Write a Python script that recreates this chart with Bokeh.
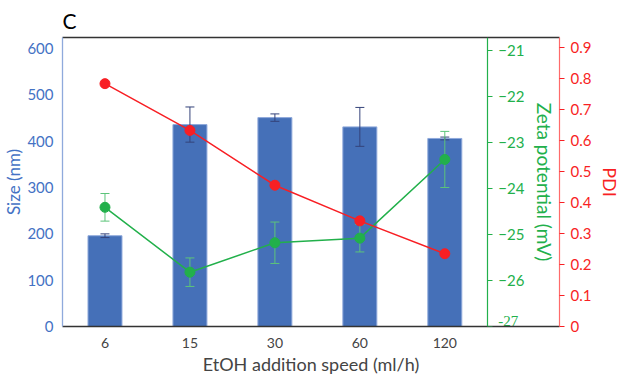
from bokeh.plotting import figure
from bokeh.models import Range1d, LinearAxis, FixedTicker, ColumnDataSource
from bokeh.embed import file_html
from bokeh.resources import INLINE

# ---- data ----
categories = ["6", "15", "30", "60", "120"]
size_nm = [196, 436, 451, 431, 406]
size_err = [4, 38, 8, 42, 3]
zeta_mv = [-24.41, -25.82, -25.18, -25.08, -23.37]
zeta_err = [0.30, 0.31, 0.45, 0.30, 0.61]
pdi = [0.784, 0.633, 0.456, 0.341, 0.235]

size_ticks = [0, 100, 200, 300, 400, 500, 600]
zeta_ticks = [-27, -26, -25, -24, -23, -22, -21]
pdi_ticks = [0, 0.1, 0.2, 0.3, 0.4, 0.5, 0.6, 0.7, 0.8, 0.9]

BLUE = "#4472c4"
BAR = "#4570b8"
GREEN = "#22b04b"
RED = "#f81f24"
FONT = "Lato"

xs = list(range(len(categories)))
src = ColumnDataSource(dict(
    x=xs, size=size_nm,
    s_lo=[v - e for v, e in zip(size_nm, size_err)],
    s_hi=[v + e for v, e in zip(size_nm, size_err)],
    zeta=zeta_mv,
    z_lo=[v - e for v, e in zip(zeta_mv, zeta_err)],
    z_hi=[v + e for v, e in zip(zeta_mv, zeta_err)],
    pdi=pdi,
))

p = figure(frame_width=497, frame_height=289, x_range=Range1d(-0.5, 5.35),
           y_range=Range1d(0, 624), output_backend="svg",
           toolbar_location=None, min_border_left=54, min_border_right=4,
           min_border_top=31, min_border_bottom=10)
p.extra_y_ranges = {"zeta": Range1d(-27, -20.72), "pdi": Range1d(0, 0.933)}
p.grid.visible = False
p.outline_line_color = None
p.background_fill_color = "white"

p.title.text = "C"
p.title.text_font = FONT
p.title.text_font_size = "21px"
p.title.text_font_style = "normal"
p.title.text_color = "black"

# x axis
xa = p.xaxis[0]
xa.ticker = FixedTicker(ticks=xs)
xa.major_label_overrides = {i: c for i, c in zip(xs, categories)}
xa.axis_label = "EtOH addition speed (ml/h)"
xa.axis_label_text_font = FONT
xa.axis_label_text_font_size = "18px"
xa.axis_label_text_font_style = "normal"
xa.axis_label_standoff = 2
xa.major_label_text_font = FONT
xa.major_label_text_font_size = "14px"
xa.major_label_standoff = 5
xa.major_tick_line_color = None
xa.minor_tick_line_color = None
xa.axis_line_color = "#333333"
xa.axis_line_width = 1.3

# top border
top = LinearAxis(ticker=FixedTicker(ticks=[]), axis_line_color="#333333",
                 axis_line_width=1.3, major_label_text_font_size="0px",
                 major_tick_line_color=None, minor_tick_line_color=None)
p.add_layout(top, "above")

# left axis
ya = p.yaxis[0]
ya.ticker = FixedTicker(ticks=size_ticks)
ya.axis_label = "Size (nm)"
ya.axis_label_text_font = FONT
ya.axis_label_text_font_size = "17px"
ya.axis_label_text_font_style = "normal"
ya.axis_label_text_color = BLUE
ya.axis_label_standoff = 0
ya.major_label_text_font = FONT
ya.major_label_text_font_size = "15px"
ya.major_label_text_color = BLUE
ya.major_label_standoff = 3
ya.major_tick_line_color = None
ya.minor_tick_line_color = None
ya.axis_line_color = "#8faadc"
ya.axis_line_width = 1.3

# zeta axis, inside the frame at the end of the categories
za = LinearAxis(y_range_name="zeta", fixed_location=4.5,
                ticker=FixedTicker(ticks=zeta_ticks),
                axis_label="Zeta potential (mV)")
za.major_label_overrides = {zeta_ticks[0]: ""}
za.axis_label_text_font = FONT
za.axis_label_text_font_size = "19px"
za.axis_label_text_font_style = "normal"
za.axis_label_text_color = GREEN
za.axis_label_standoff = 5
za.major_label_text_font = FONT
za.major_label_text_font_size = "15px"
za.major_label_text_color = GREEN
za.major_label_standoff = 6
za.major_tick_line_color = GREEN
za.major_tick_out = 5
za.major_tick_in = 0
za.minor_tick_line_color = None
za.axis_line_color = GREEN
za.axis_line_width = 1.2
p.add_layout(za, "right")

# bottom zeta tick label, lifted above the x axis line
p.text(x=[4.5], y=[zeta_ticks[0]], text=[str(zeta_ticks[0])],
       y_range_name="zeta", x_offset=11, y_offset=-1,
       text_baseline="bottom", text_align="left",
       text_font=FONT, text_font_size="15px", text_color=GREEN)

# pdi axis
pa = LinearAxis(y_range_name="pdi", ticker=FixedTicker(ticks=pdi_ticks),
                axis_label="PDI")
pa.major_label_overrides = {0: "0"}
pa.axis_label_text_font = FONT
pa.axis_label_text_font_size = "18px"
pa.axis_label_text_font_style = "normal"
pa.axis_label_text_color = RED
pa.axis_label_standoff = 5
pa.major_label_text_font = FONT
pa.major_label_text_font_size = "15px"
pa.major_label_text_color = RED
pa.major_label_standoff = 6
pa.major_tick_line_color = RED
pa.major_tick_out = 5
pa.major_tick_in = 0
pa.minor_tick_line_color = None
pa.axis_line_color = "#ff6b6b"
pa.axis_line_width = 1.2
p.add_layout(pa, "right")

# bars
p.vbar(x="x", top="size", bottom=0, width=0.4, source=src,
       fill_color=BAR, line_color="#8fa9db", line_width=1)
ERR_B = "#34437a"
p.segment(x0="x", y0="s_lo", x1="x", y1="s_hi", source=src,
          line_color=ERR_B, line_width=1)
p.scatter(x="x", y="s_lo", source=src, marker="dash", size=9,
          line_color=ERR_B, line_width=1)
p.scatter(x="x", y="s_hi", source=src, marker="dash", size=9,
          line_color=ERR_B, line_width=1)

# zeta series
ERR_G = "#5cc47a"
p.line(x="x", y="zeta", source=src, y_range_name="zeta",
       line_color=GREEN, line_width=1.5)
p.segment(x0="x", y0="z_lo", x1="x", y1="z_hi", source=src,
          y_range_name="zeta", line_color=ERR_G, line_width=1)
p.scatter(x="x", y="z_lo", source=src, y_range_name="zeta", marker="dash",
          size=9, line_color=ERR_G, line_width=1)
p.scatter(x="x", y="z_hi", source=src, y_range_name="zeta", marker="dash",
          size=9, line_color=ERR_G, line_width=1)
p.scatter(x="x", y="zeta", source=src, y_range_name="zeta", size=10,
          fill_color=GREEN, line_color=GREEN)

# pdi series
p.line(x="x", y="pdi", source=src, y_range_name="pdi",
       line_color=RED, line_width=1.5)
p.scatter(x="x", y="pdi", source=src, y_range_name="pdi", size=10,
          fill_color=RED, line_color=RED)

open("out.html", "w").write(file_html(p, INLINE))
